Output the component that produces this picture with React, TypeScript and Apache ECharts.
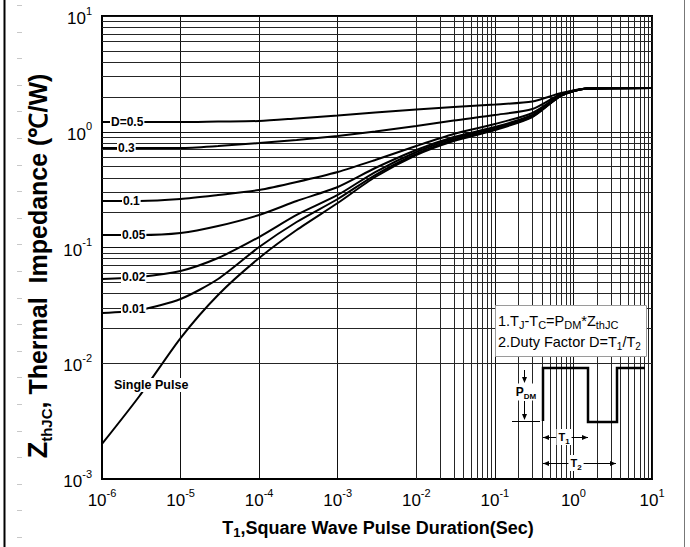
import React, { useEffect, useRef } from 'react';
import * as echarts from 'echarts';

// Square wave pulse duration T1 (s)
const pulseDurations = [1e-6, 3e-6, 1e-5, 3e-5, 1e-4, 3e-4, 1e-3, 3e-3, 1e-2, 3e-2, 0.1, 0.3, 0.7, 1.5, 10];

// Thermal impedance ZthJC (°C/W) per duty factor
const zD05 = [1.214, 1.214, 1.214, 1.226, 1.238, 1.302, 1.382, 1.467, 1.557, 1.636, 1.72, 1.825, 2.162, 2.364, 2.388];
const zD03 = [0.724, 0.724, 0.724, 0.753, 0.799, 0.849, 0.919, 1.005, 1.121, 1.251, 1.395, 1.572, 2.119, 2.364, 2.388];
const zD01 = [0.2524, 0.2524, 0.2624, 0.2842, 0.314, 0.368, 0.449, 0.57, 0.753, 0.956, 1.167, 1.452, 2.077, 2.364, 2.388];
const zD005 = [0.1282, 0.1282, 0.1334, 0.1533, 0.191, 0.2522, 0.3333, 0.486, 0.696, 0.901, 1.099, 1.395, 2.057, 2.364, 2.388];
const zD002 = [0.0534, 0.0556, 0.0627, 0.0811, 0.1232, 0.191, 0.2842, 0.449, 0.668, 0.874, 1.077, 1.368, 2.057, 2.364, 2.388];
const zD001 = [0.02717, 0.02884, 0.0359, 0.0534, 0.101, 0.1661, 0.2624, 0.4229, 0.6424, 0.849, 1.056, 1.354, 2.057, 2.364, 2.388];
const zSingle = [0.002007, 0.00521, 0.0165, 0.0389, 0.0811, 0.1416, 0.2423, 0.4064, 0.6295, 0.832, 1.035, 1.341, 2.057, 2.364, 2.388];

const curveNames = ['D=0.5', '0.3', '0.1', '0.05', '0.02', '0.01', 'Single Pulse'];
const curveValues = [zD05, zD03, zD01, zD005, zD002, zD001, zSingle];

const xDecades = [-6, -5, -4, -3, -2, -1, 0];
const yDecades = [-3, -2, -1, 0];
const minorSteps = [2, 3, 4, 5, 6, 7, 8, 9];

const FF = '"Liberation Sans", Arial, Helvetica, sans-serif';

const expLabel = (v: number) => {
  const e = Math.round(Math.log10(v));
  return `{b|10}{s|${e}}`;
};
const expRich = {
  b: { fontSize: 17, lineHeight: 22, verticalAlign: 'bottom', fontFamily: FF, color: '#000' },
  s: { fontSize: 11, lineHeight: 11, verticalAlign: 'top', fontFamily: FF, color: '#000' },
};

const subRich = (size: number, sub: number, weight: string) => ({
  n: { fontSize: size, lineHeight: size + 5, verticalAlign: 'middle', fontFamily: FF, fontWeight: weight, color: '#000' },
  s: { fontSize: sub, lineHeight: sub, verticalAlign: 'bottom', fontFamily: FF, fontWeight: weight, color: '#000' },
});

export default function App() {
  const ref = useRef<HTMLDivElement>(null);
  useEffect(() => {
    if (!ref.current) return;
    const chart = echarts.init(ref.current, null, { renderer: 'svg' });

    const minorX: number[] = [];
    xDecades.forEach((d) => minorSteps.forEach((m) => minorX.push(m * Math.pow(10, d))));
    const minorY: number[] = [];
    yDecades.forEach((d) => minorSteps.forEach((m) => minorY.push(m * Math.pow(10, d))));

    const curveLabels = [
      { text: 'D=0.5', x: 110, y: 121.5, size: 12 },
      { text: '0.3', x: 117, y: 148, size: 12 },
      { text: '0.1', x: 122, y: 201, size: 12 },
      { text: '0.05', x: 121, y: 235, size: 12 },
      { text: '0.02', x: 121, y: 277, size: 12 },
      { text: '0.01', x: 121, y: 309, size: 12 },
      { text: 'Single Pulse', x: 113, y: 385, size: 12.5 },
    ];

    const arrowHead = (tx: number, ty: number, dir: 'l' | 'r' | 'd') => {
      let pts: number[][];
      if (dir === 'l') pts = [[tx, ty], [tx + 6, ty - 2.5], [tx + 6, ty + 2.5]];
      else if (dir === 'r') pts = [[tx, ty], [tx - 6, ty - 2.5], [tx - 6, ty + 2.5]];
      else pts = [[tx, ty], [tx - 2.5, ty - 6], [tx + 2.5, ty - 6]];
      return { type: 'polygon', z: 120, shape: { points: pts }, style: { fill: '#000' } };
    };
    const seg = (x1: number, y1: number, x2: number, y2: number, w = 1) => ({
      type: 'line', z: 120, shape: { x1, y1, x2, y2 }, style: { stroke: '#000', lineWidth: w },
    });

    const rulerMarks: any[] = [];
    for (let y = 5; y < 547; y += 26.6) {
      rulerMarks.push({ type: 'line', z: 120, shape: { x1: 17, y1: Math.round(y) + 0.5, x2: 22, y2: Math.round(y) + 0.5 }, style: { stroke: '#c8c8c8', lineWidth: 1 } });
    }

    const option: any = {
      animation: false,
      backgroundColor: '#fff',
      grid: { left: 102, right: 38, top: 16, bottom: 68, show: true, borderColor: '#000', borderWidth: 2, backgroundColor: 'transparent' },
      xAxis: {
        type: 'log', logBase: 10, min: 1e-6, max: 10,
        axisLine: { show: true, onZero: false, lineStyle: { color: '#000', width: 2 } },
        axisTick: { show: false },
        splitLine: { show: true, lineStyle: { color: '#111', width: 1 } },
        axisLabel: { margin: 8, formatter: expLabel, rich: expRich },
      },
      yAxis: {
        type: 'log', logBase: 10, min: 1e-3, max: 10,
        axisLine: { show: true, onZero: false, lineStyle: { color: '#000', width: 2 } },
        axisTick: { show: false },
        splitLine: { show: true, lineStyle: { color: '#111', width: 1 } },
        axisLabel: { margin: 10, formatter: expLabel, rich: expRich },
      },
      series: [
        {
          type: 'line', data: [], z: 1, silent: true,
          markLine: {
            silent: true, symbol: ['none', 'none'], label: { show: false },
            lineStyle: { color: '#252525', width: 1, type: 'solid' },
            emphasis: { disabled: true },
            data: [...minorX.map((v) => ({ xAxis: v })), ...minorY.map((v) => ({ yAxis: v }))],
          },
        },
        ...curveValues.map((vals, k) => ({
          name: curveNames[k],
          type: 'line', z: 5, silent: true, showSymbol: false,
          smooth: 0.25,
          lineStyle: { color: '#000', width: 2 },
          data: pulseDurations.map((t, i) => [t, vals[i]]),
        })),
      ],
      graphic: [
        { type: 'line', z: 120, shape: { x1: 4.5, y1: 0, x2: 4.5, y2: 547 }, style: { stroke: '#000', lineWidth: 2 } },
        { type: 'line', z: 120, shape: { x1: 684.5, y1: 0, x2: 684.5, y2: 547 }, style: { stroke: '#777', lineWidth: 1 } },
        ...rulerMarks,
        ...curveLabels.map((l) => ({
          type: 'text', z: 110, x: l.x, y: l.y,
          style: {
            text: l.text, fill: '#000', font: `bold ${l.size}px ${FF}`,
            align: 'left', textAlign: 'left', verticalAlign: 'middle', textVerticalAlign: 'middle',
            backgroundColor: '#fff', padding: [1, 1, 0, 1],
          },
        })),
        // Notes box
        { type: 'rect', z: 105, shape: { x: 495.5, y: 305.5, width: 151, height: 51 }, style: { fill: '#fff', stroke: '#9a9a9a', lineWidth: 1 } },
        {
          type: 'text', z: 110, x: 498, y: 321,
          style: { text: '{n|1.T}{s|J}{n|-T}{s|C}{n|=P}{s|DM}{n|*Z}{s|thJC}', rich: subRich(14.5, 11, 'normal'), align: 'left', verticalAlign: 'middle', textAlign: 'left', textVerticalAlign: 'middle' },
        },
        {
          type: 'text', z: 110, x: 498, y: 342,
          style: { text: '{n|2.Duty Factor D=T}{s|1}{n|/T}{s|2}', rich: subRich(14.5, 10, 'normal'), align: 'left', verticalAlign: 'middle', textAlign: 'left', textVerticalAlign: 'middle' },
        },
        // Pulse waveform
        { type: 'polyline', z: 115, shape: { points: [[543, 421], [543, 368], [588, 368], [588, 422], [617, 422], [617, 368], [645, 368]] }, style: { stroke: '#000', lineWidth: 2.5, fill: null } },
        seg(512, 421.5, 540, 421.5),
        seg(524.5, 370, 524.5, 380),
        arrowHead(524.5, 383, 'd'),
        seg(524.5, 401, 524.5, 416),
        arrowHead(524.5, 420, 'd'),
        {
          type: 'text', z: 118, x: 526, y: 392,
          style: { text: '{n|P}{s|DM}', rich: subRich(12, 8, 'bold'), align: 'center', verticalAlign: 'middle', textAlign: 'center', textVerticalAlign: 'middle', backgroundColor: '#fff', padding: [0, 1] },
        },
        seg(543, 437.5, 588, 437.5),
        arrowHead(543, 437.5, 'l'),
        arrowHead(588, 437.5, 'r'),
        {
          type: 'text', z: 122, x: 564, y: 437,
          style: { text: '{n|T}{s|1}', rich: subRich(11, 8, 'bold'), align: 'center', verticalAlign: 'middle', textAlign: 'center', textVerticalAlign: 'middle', backgroundColor: '#fff', padding: [0, 2] },
        },
        seg(543, 463.5, 616, 463.5),
        arrowHead(543, 463.5, 'l'),
        arrowHead(616, 463.5, 'r'),
        {
          type: 'text', z: 122, x: 576, y: 463,
          style: { text: '{n|T}{s|2}', rich: subRich(11, 8, 'bold'), align: 'center', verticalAlign: 'middle', textAlign: 'center', textVerticalAlign: 'middle', backgroundColor: '#fff', padding: [0, 2] },
        },
        // Axis titles
        {
          type: 'text', z: 110, x: 38, y: 266, rotation: Math.PI / 2,
          style: {
            text: '{z|Z}{s|thJC}{t|, Thermal  Impedance (℃/W)}',
            rich: {
              z: { fontSize: 27, lineHeight: 31, verticalAlign: 'middle', fontWeight: 'bold', fontFamily: FF, color: '#000' },
              s: { fontSize: 15, lineHeight: 15, verticalAlign: 'bottom', fontWeight: 'bold', fontFamily: FF, color: '#000' },
              t: { fontSize: 25, lineHeight: 31, verticalAlign: 'middle', fontWeight: 'bold', fontFamily: FF, color: '#000' },
            },
            align: 'center', verticalAlign: 'middle', textAlign: 'center', textVerticalAlign: 'middle',
          },
        },
        {
          type: 'text', z: 110, x: 378, y: 528,
          style: {
            text: '{t|T}{s|1}{t|,Square Wave Pulse Duration(Sec)}',
            rich: {
              t: { fontSize: 18, lineHeight: 22, verticalAlign: 'middle', fontWeight: 'bold', fontFamily: FF, color: '#000' },
              s: { fontSize: 13, lineHeight: 13, verticalAlign: 'bottom', fontWeight: 'bold', fontFamily: FF, color: '#000' },
            },
            align: 'center', verticalAlign: 'middle', textAlign: 'center', textVerticalAlign: 'middle',
          },
        },
      ],
    };
    chart.setOption(option);
    return () => chart.dispose();
  }, []);
  return <div ref={ref} style={{ position: 'fixed', left: 0, top: 0, width: 690, height: 547, background: '#fff' }} />;
}
